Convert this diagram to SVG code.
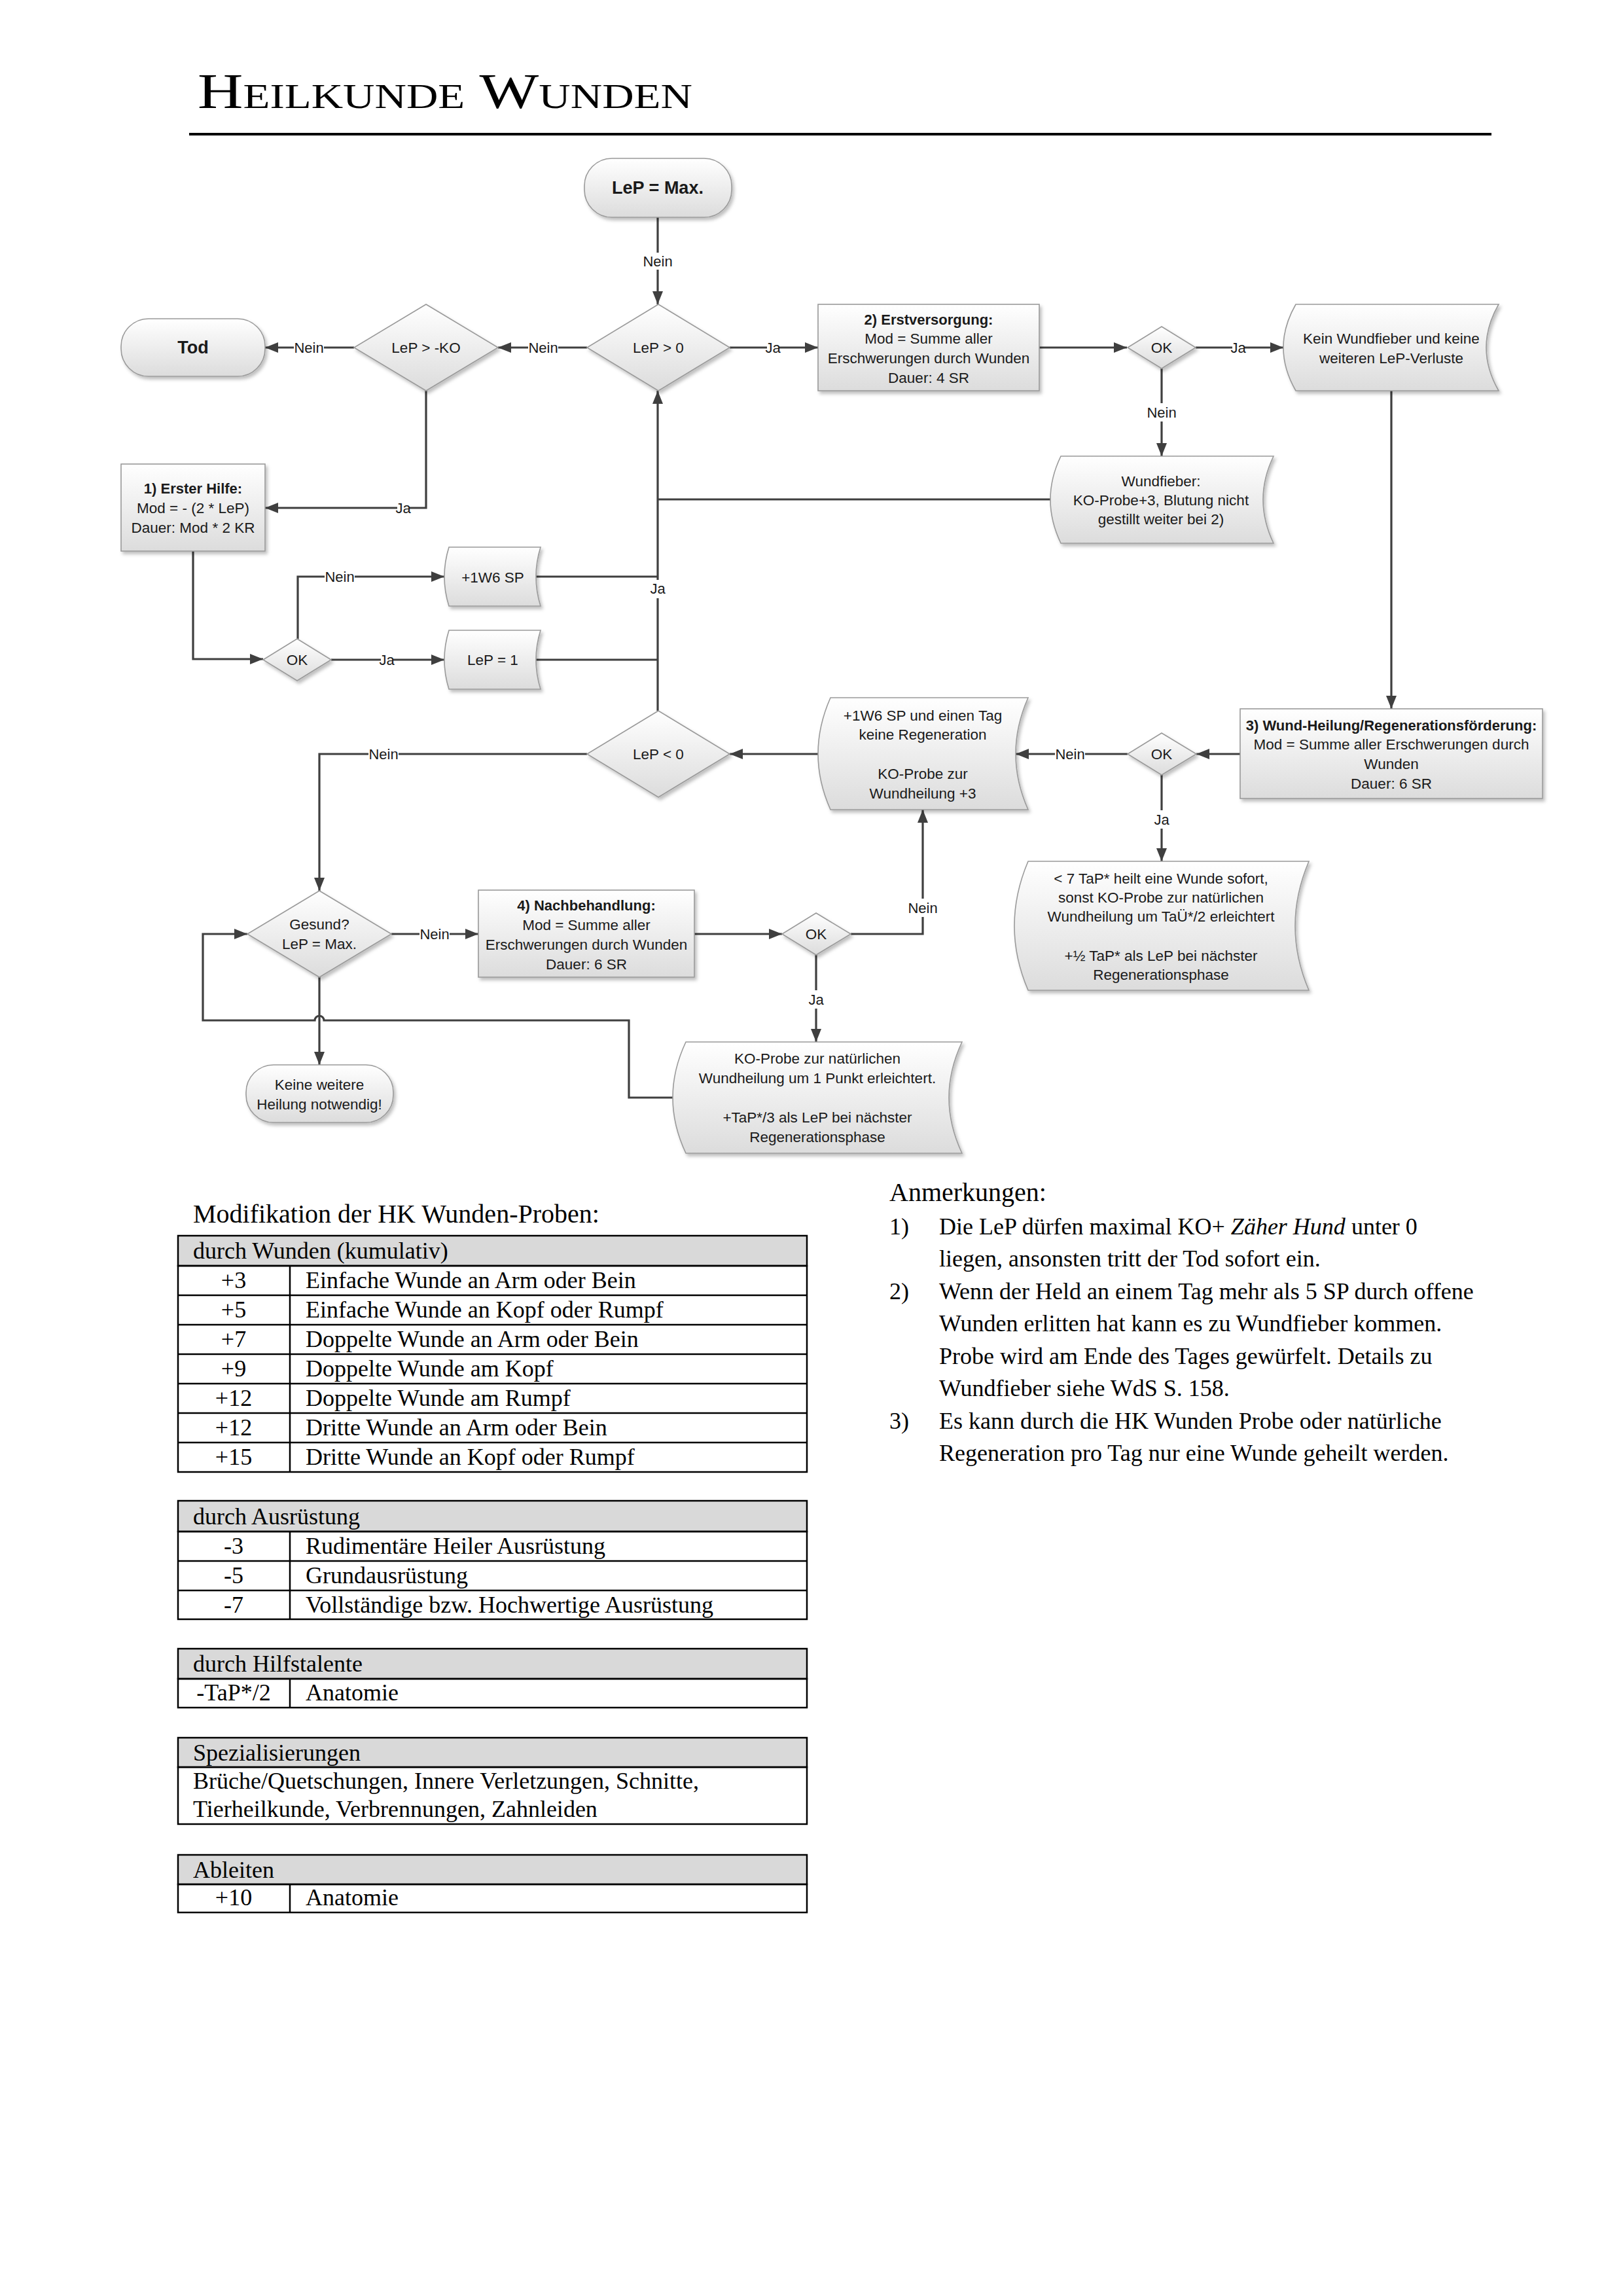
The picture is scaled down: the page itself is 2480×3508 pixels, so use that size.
<svg xmlns="http://www.w3.org/2000/svg" width="2480" height="3508" viewBox="0 0 2480 3508">
<style>
.t{font-family:"Liberation Sans",Arial,sans-serif;font-size:22.5px;fill:#1a1a1a;text-anchor:middle}
.b{font-weight:bold;font-size:22px}
.big{font-weight:bold;font-size:27px}
.lb{font-family:"Liberation Sans",Arial,sans-serif;font-size:22px;fill:#1a1a1a;text-anchor:middle}
.sh{fill:url(#g);stroke:#9a9a9a;stroke-width:1.6;filter:url(#ds)}
.c{fill:none;stroke:#3f3f3f;stroke-width:3.2}
.ca{fill:none;stroke:#3f3f3f;stroke-width:3.2;marker-end:url(#ar)}
.bg{fill:#fff}
.s{font-family:"Liberation Serif","Times New Roman",serif;font-size:36px;fill:#000}
.h{font-family:"Liberation Serif","Times New Roman",serif;font-size:40px;fill:#000}
.tb{fill:none;stroke:#000;stroke-width:2.5}
.th{fill:#d9d9d9;stroke:#000;stroke-width:2.5}
.mid{text-anchor:middle}
</style>
<defs>
<linearGradient id="g" x1="0" y1="0" x2="0" y2="1">
<stop offset="0" stop-color="#ffffff"/>
<stop offset="1" stop-color="#dcdcdc"/>
</linearGradient>
<filter id="ds" x="-10%" y="-10%" width="125%" height="130%">
<feDropShadow dx="3" dy="4" stdDeviation="2.5" flood-color="#000" flood-opacity="0.25"/>
</filter>
<marker id="ar" markerUnits="userSpaceOnUse" markerWidth="22" markerHeight="18" refX="20" refY="8" orient="auto">
<path d="M0,0 L20,8 L0,16 Z" fill="#3f3f3f"/>
</marker>
</defs>
<rect width="2480" height="3508" fill="#fff"/>

<g id="title">
<text x="302" y="165" font-family="'Liberation Serif','Times New Roman',serif" font-size="76" font-variant="small-caps" textLength="756" lengthAdjust="spacingAndGlyphs" fill="#000">Heilkunde Wunden</text>
<line x1="289" y1="205" x2="2279" y2="205" stroke="#000" stroke-width="4"/>
</g>

<g id="connectors">
<path class="ca" d="M1005,332 V465"/>
<path class="ca" d="M897,531 H761"/>
<path class="ca" d="M541,531 H405"/>
<path class="ca" d="M1115,531 H1250"/>
<path class="ca" d="M1588,531 H1722"/>
<path class="ca" d="M1827,531 H1961"/>
<path class="ca" d="M1775,563 V697"/>
<path class="c" d="M1605,763 H1005"/>
<path class="ca" d="M1005,1086 V597"/>
<path class="ca" d="M651,597 V776 H405"/>
<path class="ca" d="M295,842 V1007 H402"/>
<path class="ca" d="M455,976 V881 H679"/>
<path class="ca" d="M506,1008 H679"/>
<path class="c" d="M819,881 H1005"/>
<path class="c" d="M819,1008 H1005"/>
<path class="ca" d="M2126,597 V1083"/>
<path class="ca" d="M1895,1152 H1828"/>
<path class="ca" d="M1723,1152 H1552"/>
<path class="ca" d="M1250,1152 H1115"/>
<path class="ca" d="M1775,1183 V1316"/>
<path class="ca" d="M897,1152 H488 V1361"/>
<path class="ca" d="M598,1427 H731"/>
<path class="ca" d="M1061,1427 H1195"/>
<path class="ca" d="M1300,1427 H1410 V1237"/>
<path class="ca" d="M1247,1458 V1592"/>
<path class="ca" d="M1028,1677 H961 V1559 H495 A7,7 0 0 0 481,1559 H310 V1427 H378"/>
<path class="ca" d="M488,1493 V1627"/>

<rect class="bg" x="981" y="386" width="48" height="26"/><text class="lb" x="1005" y="407">Nein</text>
<rect class="bg" x="807" y="520" width="46" height="22"/><text class="lb" x="830" y="539">Nein</text>
<rect class="bg" x="449" y="520" width="46" height="22"/><text class="lb" x="472" y="539">Nein</text>
<rect class="bg" x="1172" y="520" width="18" height="22"/><text class="lb" x="1181" y="539">Ja</text>
<rect class="bg" x="1883" y="520" width="18" height="22"/><text class="lb" x="1892" y="539">Ja</text>
<rect class="bg" x="1751" y="616" width="48" height="28"/><text class="lb" x="1775" y="638">Nein</text>
<rect class="bg" x="994" y="886" width="22" height="28"/><text class="lb" x="1005" y="907">Ja</text>
<rect class="bg" x="607" y="765" width="18" height="22"/><text class="lb" x="616" y="784">Ja</text>
<rect class="bg" x="496" y="870" width="46" height="22"/><text class="lb" x="519" y="889">Nein</text>
<rect class="bg" x="582" y="997" width="18" height="22"/><text class="lb" x="591" y="1016">Ja</text>
<rect class="bg" x="1612" y="1141" width="46" height="22"/><text class="lb" x="1635" y="1160">Nein</text>
<rect class="bg" x="1764" y="1238" width="22" height="28"/><text class="lb" x="1775" y="1260">Ja</text>
<rect class="bg" x="563" y="1141" width="46" height="22"/><text class="lb" x="586" y="1160">Nein</text>
<rect class="bg" x="641" y="1416" width="46" height="22"/><text class="lb" x="664" y="1435">Nein</text>
<rect class="bg" x="1386" y="1373" width="48" height="28"/><text class="lb" x="1410" y="1395">Nein</text>
<rect class="bg" x="1236" y="1513" width="22" height="28"/><text class="lb" x="1247" y="1535">Ja</text>
</g>

<g id="n-lepmax"><rect class="sh" x="893" y="242" width="225" height="90" rx="42"/><text class="t big" x="1005" y="296">LeP = Max.</text></g>
<g id="n-lep0"><path class="sh" d="M1006,465 L1115,531 L1006,597 L897,531 Z"/><text class="t" x="1006" y="539">LeP &gt; 0</text></g>
<g id="n-lepko"><path class="sh" d="M651,465 L761,531 L651,597 L541,531 Z"/><text class="t" x="651" y="539">LeP &gt; -KO</text></g>
<g id="n-tod"><rect class="sh" x="185" y="487" width="220" height="88" rx="42"/><text class="t big" x="295" y="540">Tod</text></g>
<g id="n-erstversorgung"><rect class="sh" x="1250" y="465" width="338" height="132"/>
<text class="t b" x="1419" y="496">2) Erstversorgung:</text>
<text class="t" x="1419" y="525">Mod = Summe aller</text>
<text class="t" x="1419" y="555">Erschwerungen durch Wunden</text>
<text class="t" x="1419" y="585">Dauer: 4 SR</text></g>
<g id="n-ok1"><path class="sh" d="M1775,499 L1827,531 L1775,563 L1723,531 Z"/><text class="t" x="1775" y="539">OK</text></g>
<g id="n-keinfieber"><path class="sh" d="M1980,465 L2290,465 Q2252,531 2290,597 L1980,597 Q1942,531 1980,465 Z"/>
<text class="t" x="2126" y="525">Kein Wundfieber und keine</text>
<text class="t" x="2126" y="555">weiteren LeP-Verluste</text></g>
<g id="n-wundfieber"><path class="sh" d="M1621,697 L1946,697 Q1914,763 1946,830 L1621,830 Q1589,763 1621,697 Z"/>
<text class="t" x="1774" y="743">Wundfieber:</text>
<text class="t" x="1774" y="772">KO-Probe+3, Blutung nicht</text>
<text class="t" x="1774" y="801">gestillt weiter bei 2)</text></g>
<g id="n-ersthilfe"><rect class="sh" x="185" y="709" width="220" height="133"/>
<text class="t b" x="295" y="754">1) Erster Hilfe:</text>
<text class="t" x="295" y="784">Mod = - (2 * LeP)</text>
<text class="t" x="295" y="814">Dauer: Mod * 2 KR</text></g>
<g id="n-ok2"><path class="sh" d="M454,976 L506,1008 L454,1040 L402,1008 Z"/><text class="t" x="454" y="1016">OK</text></g>
<g id="n-1w6"><path class="sh" d="M686,836 L826,836 Q812,881 826,926 L686,926 Q672,881 686,836 Z"/><text class="t" x="753" y="890">+1W6 SP</text></g>
<g id="n-lep1"><path class="sh" d="M686,963 L826,963 Q812,1008 826,1053 L686,1053 Q672,1008 686,963 Z"/><text class="t" x="753" y="1016">LeP = 1</text></g>
<g id="n-lepneg"><path class="sh" d="M1006,1086 L1115,1152 L1006,1218 L897,1152 Z"/><text class="t" x="1006" y="1160">LeP &lt; 0</text></g>
<g id="n-wundheilung"><rect class="sh" x="1895" y="1083" width="462" height="137"/>
<text class="t b" x="2126" y="1116">3) Wund-Heilung/Regenerationsförderung:</text>
<text class="t" x="2126" y="1145">Mod = Summe aller Erschwerungen durch</text>
<text class="t" x="2126" y="1175">Wunden</text>
<text class="t" x="2126" y="1205">Dauer: 6 SR</text></g>
<g id="n-ok3"><path class="sh" d="M1775,1120 L1828,1152 L1775,1184 L1723,1152 Z"/><text class="t" x="1775" y="1160">OK</text></g>
<g id="n-keineregen"><path class="sh" d="M1269,1066 L1571,1066 Q1533,1152 1571,1237 L1269,1237 Q1231,1152 1269,1066 Z"/>
<text class="t" x="1410" y="1101">+1W6 SP und einen Tag</text>
<text class="t" x="1410" y="1130">keine Regeneration</text>
<text class="t" x="1410" y="1190">KO-Probe zur</text>
<text class="t" x="1410" y="1220">Wundheilung +3</text></g>
<g id="n-tap7"><path class="sh" d="M1571,1316 L2000,1316 Q1958,1415 2000,1513 L1571,1513 Q1529,1415 1571,1316 Z"/>
<text class="t" x="1774" y="1350">&lt; 7 TaP* heilt eine Wunde sofort,</text>
<text class="t" x="1774" y="1379">sonst KO-Probe zur natürlichen</text>
<text class="t" x="1774" y="1408">Wundheilung um TaÜ*/2 erleichtert</text>
<text class="t" x="1774" y="1468">+½ TaP* als LeP bei nächster</text>
<text class="t" x="1774" y="1497">Regenerationsphase</text></g>
<g id="n-gesund"><path class="sh" d="M488,1361 L598,1427 L488,1493 L378,1427 Z"/>
<text class="t" x="488" y="1420">Gesund?</text>
<text class="t" x="488" y="1450">LeP = Max.</text></g>
<g id="n-nachbehandlung"><rect class="sh" x="731" y="1360" width="330" height="133"/>
<text class="t b" x="896" y="1391">4) Nachbehandlung:</text>
<text class="t" x="896" y="1421">Mod = Summe aller</text>
<text class="t" x="896" y="1451">Erschwerungen durch Wunden</text>
<text class="t" x="896" y="1481">Dauer: 6 SR</text></g>
<g id="n-ok4"><path class="sh" d="M1247,1395 L1300,1427 L1247,1459 L1195,1427 Z"/><text class="t" x="1247" y="1435">OK</text></g>
<g id="n-koprobe"><path class="sh" d="M1048,1592 L1470,1592 Q1430,1677 1470,1762 L1048,1762 Q1008,1677 1048,1592 Z"/>
<text class="t" x="1249" y="1625">KO-Probe zur natürlichen</text>
<text class="t" x="1249" y="1655">Wundheilung um 1 Punkt erleichtert.</text>
<text class="t" x="1249" y="1715">+TaP*/3 als LeP bei nächster</text>
<text class="t" x="1249" y="1745">Regenerationsphase</text></g>
<g id="n-keineweitere"><rect class="sh" x="376" y="1627" width="225" height="88" rx="42"/>
<text class="t" x="488" y="1665">Keine weitere</text>
<text class="t" x="488" y="1695">Heilung notwendig!</text></g>

<g id="modifikation">
<text class="h" x="295" y="1868">Modifikation der HK Wunden-Proben:</text>
<rect class="th" x="272" y="1888" width="961" height="46"/>
<text class="s" x="295" y="1923">durch Wunden (kumulativ)</text>
<rect class="tb" x="272" y="1934" width="961" height="315"/>
<path class="tb" d="M272,1979 H1233 M272,2024 H1233 M272,2069 H1233 M272,2114 H1233 M272,2159 H1233 M272,2204 H1233 M443,1934 V2249"/>
<text class="s mid" x="357" y="1968">+3</text><text class="s" x="467" y="1968">Einfache Wunde an Arm oder Bein</text>
<text class="s mid" x="357" y="2013">+5</text><text class="s" x="467" y="2013">Einfache Wunde an Kopf oder Rumpf</text>
<text class="s mid" x="357" y="2058">+7</text><text class="s" x="467" y="2058">Doppelte Wunde an Arm oder Bein</text>
<text class="s mid" x="357" y="2103">+9</text><text class="s" x="467" y="2103">Doppelte Wunde am Kopf</text>
<text class="s mid" x="357" y="2148">+12</text><text class="s" x="467" y="2148">Doppelte Wunde am Rumpf</text>
<text class="s mid" x="357" y="2193">+12</text><text class="s" x="467" y="2193">Dritte Wunde an Arm oder Bein</text>
<text class="s mid" x="357" y="2238">+15</text><text class="s" x="467" y="2238">Dritte Wunde an Kopf oder Rumpf</text>

<rect class="th" x="272" y="2293" width="961" height="47"/>
<text class="s" x="295" y="2329">durch Ausrüstung</text>
<rect class="tb" x="272" y="2340" width="961" height="134"/>
<path class="tb" d="M272,2385 H1233 M272,2430 H1233 M443,2340 V2474"/>
<text class="s mid" x="357" y="2374">-3</text><text class="s" x="467" y="2374">Rudimentäre Heiler Ausrüstung</text>
<text class="s mid" x="357" y="2419">-5</text><text class="s" x="467" y="2419">Grundausrüstung</text>
<text class="s mid" x="357" y="2464">-7</text><text class="s" x="467" y="2464">Vollständige bzw. Hochwertige Ausrüstung</text>

<rect class="th" x="272" y="2519" width="961" height="46"/>
<text class="s" x="295" y="2554">durch Hilfstalente</text>
<rect class="tb" x="272" y="2565" width="961" height="44"/>
<path class="tb" d="M443,2565 V2609"/>
<text class="s mid" x="357" y="2598">-TaP*/2</text><text class="s" x="467" y="2598">Anatomie</text>

<rect class="th" x="272" y="2655" width="961" height="45"/>
<text class="s" x="295" y="2690">Spezialisierungen</text>
<rect class="tb" x="272" y="2700" width="961" height="87"/>
<text class="s" x="295" y="2733">Brüche/Quetschungen, Innere Verletzungen, Schnitte,</text>
<text class="s" x="295" y="2776">Tierheilkunde, Verbrennungen, Zahnleiden</text>

<rect class="th" x="272" y="2834" width="961" height="45"/>
<text class="s" x="295" y="2869">Ableiten</text>
<rect class="tb" x="272" y="2879" width="961" height="43"/>
<path class="tb" d="M443,2879 V2922"/>
<text class="s mid" x="357" y="2911">+10</text><text class="s" x="467" y="2911">Anatomie</text>
</g>

<g id="anmerkungen">
<text class="h" x="1359" y="1835">Anmerkungen:</text>
<text class="s" x="1359" y="1886">1)</text>
<text class="s" x="1435" y="1886">Die LeP dürfen maximal KO+ <tspan font-style="italic">Zäher Hund</tspan> unter 0</text>
<text class="s" x="1435" y="1935">liegen, ansonsten tritt der Tod sofort ein.</text>
<text class="s" x="1359" y="1985">2)</text>
<text class="s" x="1435" y="1985">Wenn der Held an einem Tag mehr als 5 SP durch offene</text>
<text class="s" x="1435" y="2034">Wunden erlitten hat kann es zu Wundfieber kommen.</text>
<text class="s" x="1435" y="2084">Probe wird am Ende des Tages gewürfelt. Details zu</text>
<text class="s" x="1435" y="2133">Wundfieber siehe WdS S. 158.</text>
<text class="s" x="1359" y="2183">3)</text>
<text class="s" x="1435" y="2183">Es kann durch die HK Wunden Probe oder natürliche</text>
<text class="s" x="1435" y="2232">Regeneration pro Tag nur eine Wunde geheilt werden.</text>
</g>
</svg>
